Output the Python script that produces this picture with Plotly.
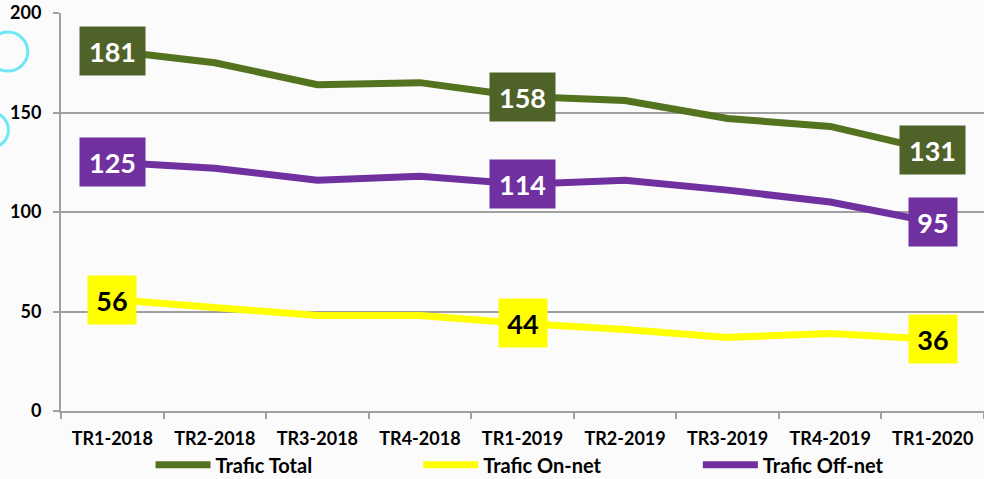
import plotly.graph_objects as go

categories = ["TR1-2018", "TR2-2018", "TR3-2018", "TR4-2018", "TR1-2019",
              "TR2-2019", "TR3-2019", "TR4-2019", "TR1-2020"]
trafic_total = [181, 175, 164, 165, 158, 156, 147, 143, 131]
trafic_on_net = [56, 52, 48, 48, 44, 41, 37, 39, 36]
trafic_off_net = [125, 122, 116, 118, 114, 116, 111, 105, 95]
label_idx = [0, 4, 8]
y_ticks = [0, 50, 100, 150, 200]

FONT = "Lato, 'Open Sans', sans-serif"
series = [
    ("Trafic Total", trafic_total, "#53731f", "#4f6228", "white", 65, "legend", 0.097),
    ("Trafic On-net", trafic_on_net, "#ffff00", "#ffff00", "black", 48, "legend2", 0.387),
    ("Trafic Off-net", trafic_off_net, "#7030a0", "#7030a0", "white", 65, "legend3", 0.690),
]

fig = go.Figure()
annotations = []
legends = {}
for name, vals, lc, bc, tc, w, lg, lx in series:
    fig.add_trace(go.Scatter(x=categories, y=vals, mode="lines", name=name, legend=lg,
                             line=dict(color=lc, width=7)))
    legends[lg] = dict(orientation="h", x=lx, xanchor="left", y=-0.135, yanchor="middle",
                       font=dict(family=FONT, size=20, color="black", weight="bold"),
                       bgcolor="rgba(0,0,0,0)", itemwidth=55)
    for i in label_idx:
        annotations.append(dict(
            x=categories[i], y=vals[i], xref="x", yref="y", text=str(vals[i]),
            showarrow=False, bgcolor=bc, width=w if vals[i] >= 100 else 48, height=48,
            font=dict(family=FONT, size=27, color=tc, weight="bold"), borderpad=0))

shapes = [
    dict(type="circle", xref="paper", yref="paper", x0=-0.079, x1=-0.036, y0=0.854, y1=0.952,
         line=dict(color="#6ee8f5", width=3)),
    dict(type="circle", xref="paper", yref="paper", x0=-0.096, x1=-0.057, y0=0.661, y1=0.751,
         line=dict(color="#6ee8f5", width=3)),
]

fig.update_layout(
    width=984, height=479,
    margin=dict(l=61, r=0, t=13, b=68, autoexpand=False),
    paper_bgcolor="#fbfbfb", plot_bgcolor="rgba(0,0,0,0)",
    font=dict(family=FONT, size=17, color="black", weight="bold"),
    showlegend=True,
    annotations=annotations,
    shapes=shapes,
    xaxis=dict(type="category", showgrid=False, showline=True, linecolor="#a0a0a0", linewidth=2,
               ticks="outside", tickson="boundaries", ticklen=6, tickcolor="#a0a0a0", tickwidth=2,
               tickfont=dict(family=FONT, size=18, color="black", weight="bold"),
               ticklabelstandoff=10, range=[-0.5, 8.5]),
    yaxis=dict(range=[0, 200], tickvals=y_ticks, showgrid=True, gridcolor="#a0a0a0", gridwidth=2,
               showline=True, linecolor="#a0a0a0", linewidth=2, ticks="outside", ticklen=6,
               tickcolor="#a0a0a0", tickwidth=2, zeroline=False,
               tickfont=dict(family=FONT, size=18, color="black", weight="bold"),
               ticklabelstandoff=8),
    **legends,
)
fig.write_html("out.html", config={"displayModeBar": False},
               post_script="document.body.style.margin='0';document.body.style.overflow='hidden';")
